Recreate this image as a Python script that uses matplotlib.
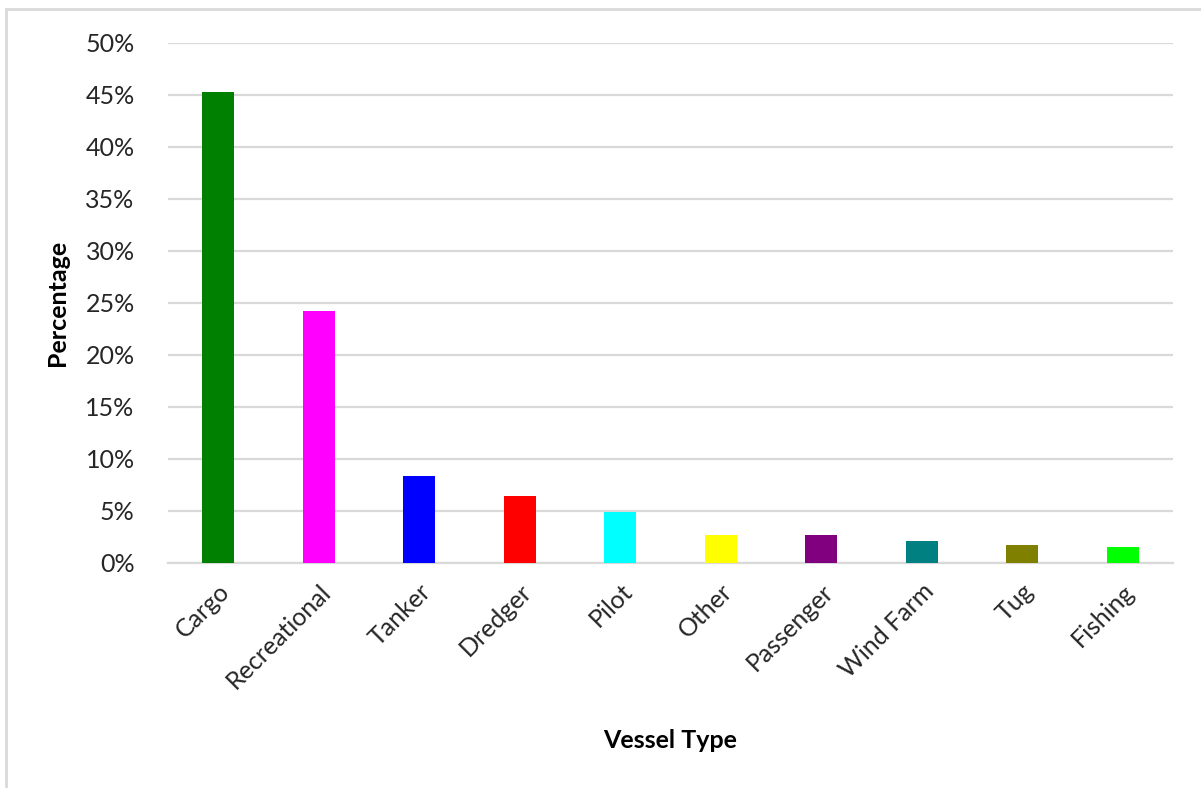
import matplotlib.pyplot as plt
from matplotlib.patches import Rectangle
from matplotlib.ticker import PercentFormatter

vessel_types = ['Cargo', 'Recreational', 'Tanker', 'Dredger', 'Pilot',
                'Other', 'Passenger', 'Wind Farm', 'Tug', 'Fishing']
percentages = [45.3, 24.2, 8.4, 6.4, 4.9, 2.7, 2.7, 2.1, 1.7, 1.5]
bar_colors = ['#008000', '#ff00ff', '#0000ff', '#ff0000', '#00ffff',
              '#ffff00', '#800080', '#008080', '#808000', '#00ff00']

plt.rcParams['font.family'] = ['Lato', 'DejaVu Sans']

fig = plt.figure(figsize=(12.01, 7.88), dpi=100)
W, H = 1201, 788
ax = fig.add_axes([168 / W, 1 - 563 / H, (1173 - 168) / W, (563 - 43) / H])

# light grey frame around the chart area
fig.patches.append(Rectangle((6 / W, -0.1), 1.2, 1 - 9 / H + 0.1,
                             transform=fig.transFigure, fill=False,
                             edgecolor='#d9d9d9', linewidth=2))

x = range(len(vessel_types))
ax.bar(x, percentages, width=0.32, color=bar_colors, zorder=3)

ax.set_xlim(-0.5, len(vessel_types) - 0.5)
ax.set_ylim(0, 50)
ax.set_yticks(range(0, 51, 5))
ax.yaxis.set_major_formatter(PercentFormatter(decimals=0))
ax.grid(axis='y', color='#d9d9d9', linewidth=1.6, zorder=0)
for side in ['top', 'right', 'left']:
    ax.spines[side].set_visible(False)
ax.spines['bottom'].set_color('#d9d9d9')
ax.spines['bottom'].set_linewidth(1.6)
ax.tick_params(axis='both', length=0, labelsize=18, labelcolor='#262626')
ax.tick_params(axis='y', pad=24)

ax.set_xticks(list(x))
ax.set_xticklabels(vessel_types, rotation=45, ha='right',
                   rotation_mode='anchor')
ax.tick_params(axis='x', pad=12)

ax.set_xlabel('Vessel Type', fontsize=18, fontweight='bold', labelpad=26)
ax.set_ylabel('Percentage', fontsize=18, fontweight='bold', labelpad=12)

fig.savefig('out.png', dpi=100)
